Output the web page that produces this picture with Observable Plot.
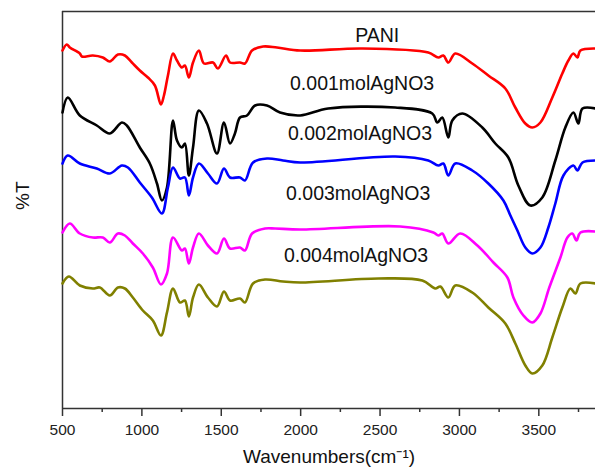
<!DOCTYPE html>
<html>
<head>
<meta charset="utf-8">
<script src="https://cdn.jsdelivr.net/npm/d3@7"></script>
<script src="https://cdn.jsdelivr.net/npm/@observablehq/plot@0.6"></script>
<style>
  html, body { margin: 0; padding: 0; background: #fff; }
  #chart { width: 595px; height: 472px; }
  svg { font-family: "Liberation Sans", Arial, sans-serif; }
</style>
</head>
<body>
<div id="chart"></div>
<script>
// Series: wavenumber (cm-1) and offset transmittance (arbitrary units)
const seriesNames = ["PANI", "0.001molAgNO3", "0.002molAgNO3", "0.003molAgNO3", "0.004molAgNO3"];
const seriesColors = ["#ff0000", "#000000", "#0000ff", "#ff00ff", "#808000"];

const paniWn = [500,527,546,609,622,691,754,798,849,893,937,987,1038,1082,1120,1139,1164,1196,1221,1252,1271,1296,1322,1359,1391,1448,1479,1530,1555,1618,1649,1694,1763,1851,1997,2388,2804,2867,2899,2930,2974,3081,3182,3289,3352,3415,3459,3510,3585,3648,3686,3718,3743,3762,3857];
const paniT  = [358,364,361,355,352,353,351,347,354,353,346,338,331,323,304,313,333,355,348,341,343,331,346,358,345,346,340,353,346,346,345,358,362,361,358,360,356,351,353,346,355,345,333,320,301,285,281,286,311,335,348,355,351,358,360];

const ag1Wn = [500,533,609,716,798,874,905,987,1050,1095,1126,1158,1196,1221,1252,1271,1296,1322,1359,1410,1473,1517,1555,1586,1618,1662,1713,1788,1870,1997,2173,2595,2829,2861,2892,2930,2955,3018,3144,3226,3308,3371,3447,3522,3604,3667,3718,3749,3775,3857];
const ag1T  = [296,311,293,283,275,286,283,261,245,225,208,221,288,268,261,265,233,261,298,285,255,286,265,275,291,293,303,303,296,293,300,301,295,286,291,271,288,295,281,265,251,223,203,211,248,281,296,285,300,300];

const ag2Wn = [500,533,609,716,798,874,912,987,1063,1126,1164,1196,1240,1271,1296,1322,1359,1416,1473,1517,1555,1618,1649,1700,1788,1889,1997,2595,2804,2867,2899,2930,2974,3081,3182,3277,3321,3365,3415,3459,3510,3560,3604,3655,3718,3743,3775,3857];
const ag2T  = [245,253,245,240,235,243,241,226,211,195,221,241,230,231,213,231,245,235,225,240,231,231,228,246,250,248,246,252,248,243,245,233,245,238,225,208,193,178,161,155,161,181,205,233,243,238,246,248];

const ag3Wn = [500,546,609,691,754,798,849,893,943,1006,1069,1120,1158,1196,1252,1271,1296,1322,1359,1416,1473,1517,1555,1618,1649,1694,1776,1839,1997,2627,2836,2867,2892,2930,3005,3113,3214,3302,3340,3403,3459,3510,3566,3636,3680,3711,3737,3762,3857];
const ag3T  = [176,185,175,171,171,166,175,173,165,155,141,124,135,171,158,160,145,161,175,163,155,170,160,161,158,175,180,180,179,182,176,173,175,165,175,163,146,131,111,93,86,95,121,151,171,175,168,176,177];

const ag4Wn = [500,540,609,691,735,798,849,893,943,1006,1069,1120,1158,1196,1240,1271,1296,1322,1359,1416,1473,1517,1555,1618,1649,1700,1776,1889,1997,2489,2766,2848,2880,2930,2974,3081,3182,3289,3352,3415,3459,3522,3585,3648,3699,3730,3762,3857];
const ag4T  = [125,132,123,120,121,113,121,120,111,98,88,73,96,120,106,108,92,111,124,111,102,117,108,110,106,125,129,127,126,130,128,120,122,111,123,116,101,85,65,43,35,43,71,101,120,115,125,125];

// Label anchors (data coordinates)
const labelWn = [2482, 2387, 2374, 2362, 2349];
const labelT  = [373, 325, 275, 215, 153];

const xTicks = [500, 1000, 1500, 2000, 2500, 3000, 3500];
const xMinorTicks = [750, 1250, 1750, 2250, 2750, 3250, 3750];

const allWn = [paniWn, ag1Wn, ag2Wn, ag3Wn, ag4Wn];
const allT = [paniT, ag1T, ag2T, ag3T, ag4T];
const rows = [];
allWn.forEach((wns, i) => wns.forEach((w, j) => rows.push({series: seriesNames[i], wn: w, t: allT[i][j]})));
const labels = seriesNames.map((s, i) => ({name: s, wn: labelWn[i], t: labelT[i]}));

const chart = Plot.plot({
  width: 595,
  height: 472,
  marginLeft: 62,
  marginRight: 0,
  marginTop: 11,
  marginBottom: 64,
  style: {fontFamily: "'Liberation Sans', Arial, sans-serif", background: "#fff", color: "#222"},
  x: {domain: [500, 3857]},
  y: {domain: [0, 397], axis: null},
  color: {domain: seriesNames, range: seriesColors},
  marks: [
    Plot.ruleY([397], {stroke: "#333", strokeWidth: 1.5}),
    Plot.ruleX([500], {stroke: "#333", strokeWidth: 1.5}),
    Plot.ruleY([0], {stroke: "#333", strokeWidth: 1.5}),
    Plot.axisX({ticks: xTicks, tickFormat: d => String(d), tickSize: 8, tickPadding: 7, fontSize: 15.5, label: null, strokeWidth: 1.5, stroke: "#333", fill: "#222"}),
    Plot.axisX({ticks: xMinorTicks, tickSize: 4, text: null, label: null, strokeWidth: 1.5, stroke: "#333"}),
    Plot.line(rows, {x: "wn", y: "t", z: "series", stroke: "series", strokeWidth: 2.6, strokeLinejoin: "round", curve: "catmull-rom"}),
    Plot.text(labels, {x: "wn", y: "t", text: "name", fontSize: 19.5, fill: "#111"}),
    Plot.text(["Wavenumbers(cm\u207B\u00B9)"], {frameAnchor: "bottom", dy: 54, fontSize: 19, fill: "#111"}),
    Plot.text(["%T"], {frameAnchor: "left", dx: -40, rotate: -90, fontSize: 19, fill: "#111"})
  ]
});
document.getElementById("chart").appendChild(chart);
</script>
</body>
</html>
